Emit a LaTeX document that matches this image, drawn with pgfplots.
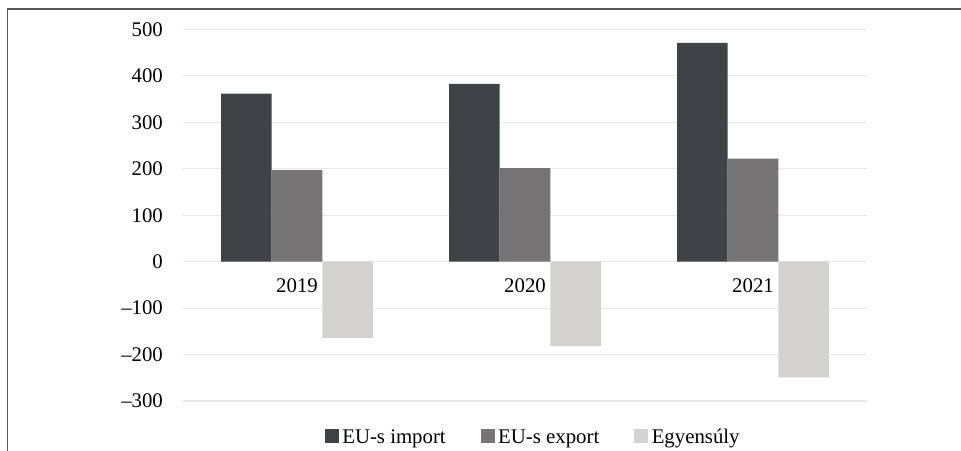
\documentclass[border=0pt]{standalone}
\usepackage{fontspec}
\setmainfont{Liberation Serif}
\usepackage{pgfplots}
\pgfplotsset{compat=1.18}
\definecolor{cimport}{HTML}{404345}
\definecolor{cexport}{HTML}{767374}
\definecolor{cbal}{HTML}{D3D2D1}
\definecolor{cgrid}{HTML}{E8E8E8}
\definecolor{cframe}{HTML}{555555}
\begin{document}
\fontsize{20.8bp}{25bp}\selectfont
\begin{tikzpicture}
\useasboundingbox (0bp,0bp) rectangle (961bp,451bp);
\draw[cframe, line width=1.2bp] (7.5bp,0bp) -- (7.5bp,442bp) -- (961bp,442bp);
\begin{axis}[
  at={(183bp,50bp)}, anchor=south west,
  scale only axis, width=684bp, height=371.5bp,
  ybar=0pt, bar width=50.6bp,
  xmin=-0.5, xmax=2.5, ymin=-300, ymax=500,
  xtick={0,1,2}, xticklabels={2019,2020,2021},
  ytick={-300,-200,-100,0,100,200,300,400,500},
  yticklabels={\textendash300,\textendash200,\textendash100,0,100,200,300,400,500},
  axis x line=middle, axis y line=left,
  axis line style={draw=none},
  major tick length=0pt,
  ymajorgrids, grid style={cgrid, line width=1.1bp},
  yticklabel style={anchor=east, xshift=-13bp},
  xticklabel style={anchor=north, yshift=-10bp},
  legend style={at={(0.512,-0.0996)}, anchor=center, draw=none, fill=none,
    legend columns=3, /tikz/every even column/.append style={column sep=33bp},
    /tikz/every odd column/.append style={column sep=1.5bp},
    inner sep=0pt},
  legend image code/.code={\fill[#1,draw=none] (0bp,-5bp) rectangle (14bp,9bp);},
  legend cell align=left,
]
\addplot[fill=cimport, draw=none] coordinates {(0,362) (1,383) (2,471)};
\addplot[fill=cexport, draw=none] coordinates {(0,197) (1,201.5) (2,222)};
\addplot[fill=cbal, draw=none] coordinates {(0,-164) (1,-182) (2,-249)};
\legend{EU-s import, EU-s export, Egyensúly}
\end{axis}
\end{tikzpicture}
\end{document}
